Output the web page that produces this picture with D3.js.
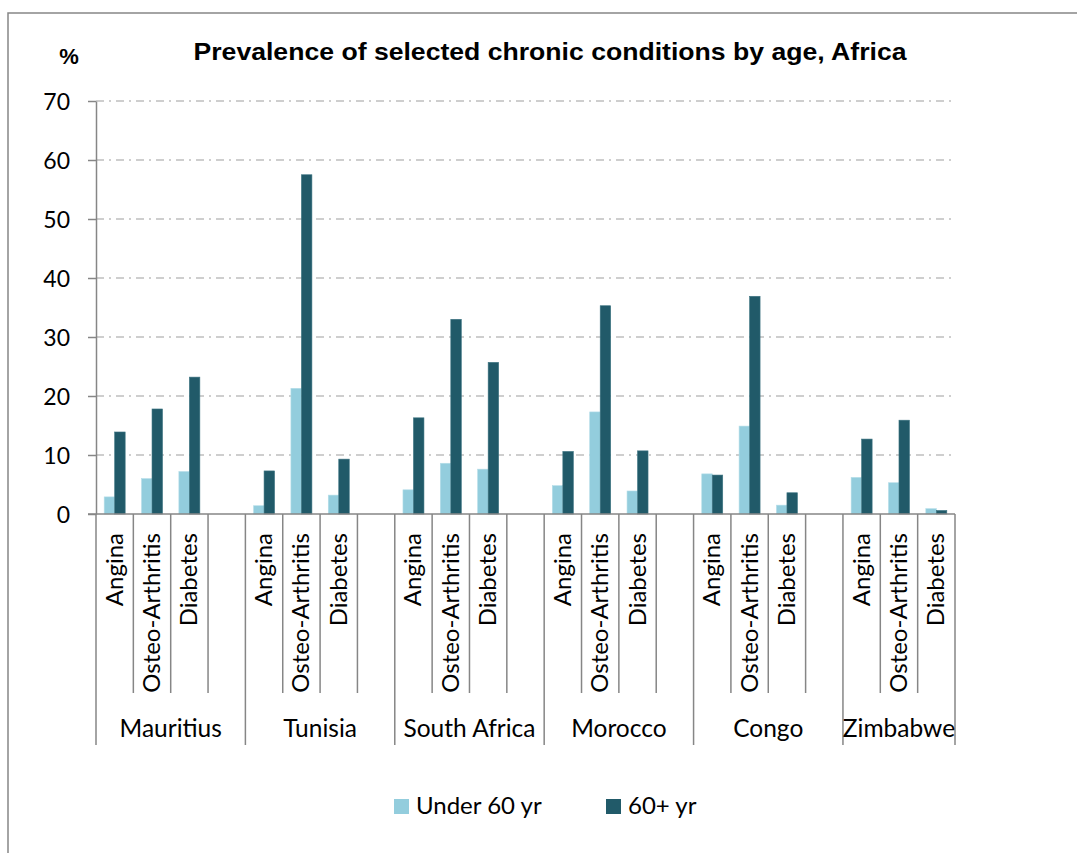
<!DOCTYPE html>
<html>
<head>
<meta charset="utf-8">
<script src="https://cdn.jsdelivr.net/npm/d3@7"></script>
<style>
  body { margin: 0; background: #fff; }
  svg { display: block; }
  .lbl { font-family: Lato, "Open Sans", sans-serif; fill: #000; }
</style>
</head>
<body>
<div id="chart"></div>
<script>
// values
const countries = ["Mauritius", "Tunisia", "South Africa", "Morocco", "Congo", "Zimbabwe"];
const conditions = ["Angina", "Osteo-Arthritis", "Diabetes"];
const seriesNames = ["Under 60 yr", "60+ yr"];
const under60 = [2.9, 6.0, 7.2, 1.4, 21.3, 3.2, 4.1, 8.6, 7.6, 4.8, 17.3, 3.9, 6.8, 14.9, 1.5, 6.2, 5.3, 0.9];
const over60 = [13.9, 17.8, 23.2, 7.3, 57.5, 9.3, 16.3, 33.0, 25.7, 10.6, 35.3, 10.7, 6.6, 36.9, 3.6, 12.7, 15.9, 0.6];
const yTicks = [0, 10, 20, 30, 40, 50, 60, 70];

const colors = ["#93cddd", "#215a69"];
const W = 1077, H = 853;

const svg = d3.select("#chart")
  .append("svg")
  .attr("width", W)
  .attr("height", H);

// outer frame (runs off the right and bottom of the picture)
svg.append("rect")
  .attr("x", 8).attr("y", 13)
  .attr("width", W + 20).attr("height", H + 20)
  .attr("fill", "none")
  .attr("stroke", "#868686")
  .attr("stroke-width", 1.5);

// build slots: 3 conditions per country + an empty gap slot (not after last)
const slots = [];
countries.forEach((c, ci) => {
  conditions.forEach((k, ki) => slots.push({ key: c + "|" + k, country: c, cond: k, i: ci * 3 + ki }));
  if (ci < countries.length - 1) slots.push({ key: c + "|gap", country: c, cond: null });
});
const rows = slots.filter(s => s.cond).map(s => ({ ...s, vals: [under60[s.i], over60[s.i]] }));

const x = d3.scaleBand()
  .domain(slots.map(s => s.key))
  .range([96, 955])
  .padding(0);

const xInner = d3.scaleBand()
  .domain([0, 1])
  .range([0, x.bandwidth()])
  .paddingInner(0)
  .paddingOuter(0.78);

const y = d3.scaleLinear()
  .domain([0, 70])
  .range([514, 101]);

// gridlines
svg.append("g")
  .selectAll("line")
  .data(yTicks.filter(d => d > 0))
  .enter().append("line")
  .attr("x1", 96).attr("x2", 955)
  .attr("y1", d => y(d)).attr("y2", d => y(d))
  .attr("stroke", "#bfbfbf")
  .attr("stroke-width", 1.5)
  .attr("stroke-dasharray", "8,5,2,5");

// bars
svg.append("g")
  .selectAll("g")
  .data(rows)
  .enter().append("g")
  .attr("transform", d => `translate(${x(d.key)},0)`)
  .selectAll("rect")
  .data(d => d.vals)
  .enter().append("rect")
  .attr("x", (d, i) => xInner(i))
  .attr("width", xInner.bandwidth())
  .attr("y", d => y(d))
  .attr("height", d => y(0) - y(d))
  .attr("fill", (d, i) => colors[i])
  .attr("stroke", (d, i) => i ? "#3d7482" : "#b4dde8")
  .attr("stroke-width", 0.6);

// y axis
const yAxis = svg.append("g")
  .attr("transform", "translate(96,0)")
  .call(d3.axisLeft(y).tickValues(yTicks).tickSize(8).tickSizeOuter(0).tickPadding(18));
yAxis.select(".domain").attr("stroke", "#868686").attr("stroke-width", 1.5);
yAxis.selectAll(".tick line").attr("stroke", "#868686").attr("stroke-width", 1.5);
yAxis.selectAll(".tick text")
  .attr("class", "lbl")
  .style("font-size", "23px")
  .attr("dy", "0.35em");

// x axis line
svg.append("line")
  .attr("x1", 88).attr("x2", 955)
  .attr("y1", y(0)).attr("y2", y(0))
  .attr("stroke", "#868686")
  .attr("stroke-width", 1.5);

// category separators
const seps = slots.map((s, i) => ({
  x: x(s.key),
  long: i === 0 || slots[i - 1].country !== s.country
}));
seps.push({ x: 955, long: true });
svg.append("g")
  .selectAll("line")
  .data(seps)
  .enter().append("line")
  .attr("x1", d => d.x).attr("x2", d => d.x)
  .attr("y1", y(0)).attr("y2", d => d.long ? 745 : 693)
  .attr("stroke", "#868686")
  .attr("stroke-width", 1.5);

// condition labels
svg.append("g")
  .selectAll("text")
  .data(rows)
  .enter().append("text")
  .attr("class", "lbl")
  .attr("transform", d => `translate(${x(d.key) + x.bandwidth() / 2 + 8},533) rotate(-90)`)
  .attr("text-anchor", "end")
  .style("font-size", "24px")
  .text(d => d.cond);

// country labels
svg.append("g")
  .selectAll("text")
  .data(countries)
  .enter().append("text")
  .attr("class", "lbl")
  .attr("x", c => {
    const ks = slots.filter(s => s.country === c);
    const x0 = x(ks[0].key);
    const x1 = c === countries[countries.length - 1] ? 955 : x(ks[ks.length - 1].key) + x.bandwidth();
    return (x0 + x1) / 2;
  })
  .attr("y", 737)
  .attr("text-anchor", "middle")
  .style("font-size", "24.5px")
  .text(d => d);

// title and unit
svg.append("text")
  .attr("x", 550).attr("y", 60)
  .attr("text-anchor", "middle")
  .attr("textLength", 713)
  .attr("lengthAdjust", "spacingAndGlyphs")
  .style("font-family", "'Liberation Sans', Arial, sans-serif")
  .style("font-weight", "bold")
  .style("font-size", "24px")
  .text("Prevalence of selected chronic conditions by age, Africa");

svg.append("text")
  .attr("x", 69).attr("y", 64)
  .attr("text-anchor", "middle")
  .style("font-family", "'Liberation Sans', Arial, sans-serif")
  .style("font-weight", "bold")
  .style("font-size", "22px")
  .text("%");

// legend
const legendX = [394, 606];
const legend = svg.append("g")
  .selectAll("g")
  .data(seriesNames)
  .enter().append("g")
  .attr("transform", (d, i) => `translate(${legendX[i]},799)`);
legend.append("rect")
  .attr("width", 15).attr("height", 15)
  .attr("fill", (d, i) => colors[i]);
legend.append("text")
  .attr("class", "lbl")
  .attr("x", 22).attr("y", 15)
  .style("font-size", "24px")
  .text(d => d);
</script>
</body>
</html>
